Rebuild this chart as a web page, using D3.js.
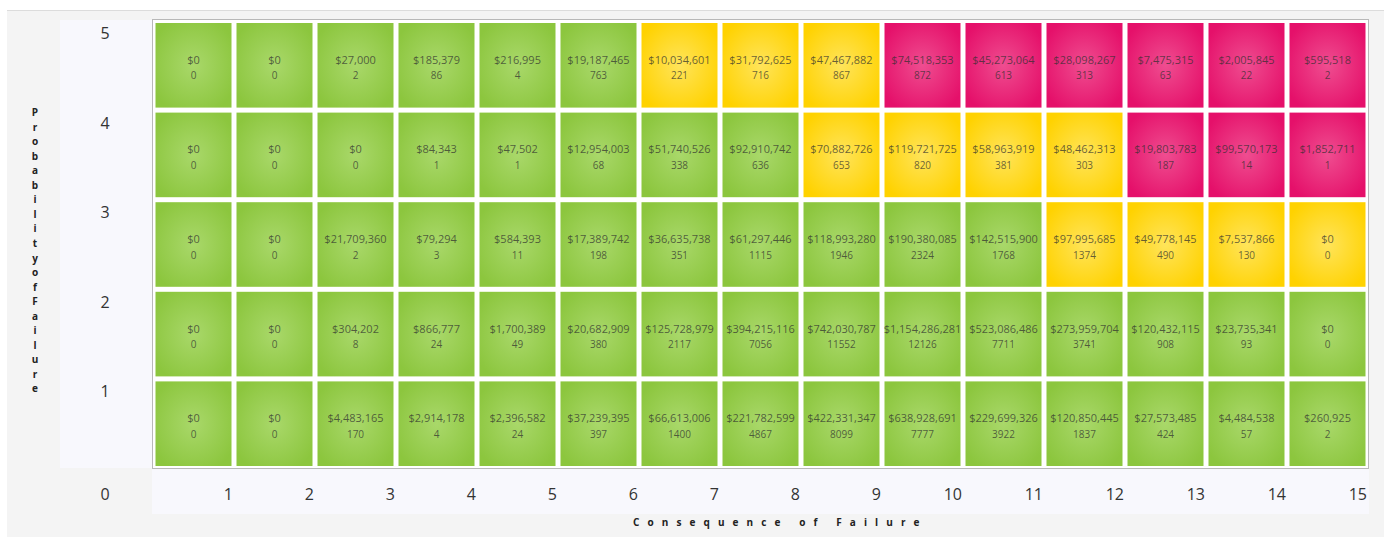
<!DOCTYPE html>
<html><head><meta charset="utf-8">
<script src="https://cdn.jsdelivr.net/npm/d3@7"></script>
<style>
html,body{margin:0;padding:0;background:#fff;}
svg{display:block;font-family:"Open Sans","Noto Sans",sans-serif;}
</style></head>
<body><svg id="chart" width="1384" height="537"></svg>
<script>
// ---- data ----
const consequence = [1,2,3,4,5,6,7,8,9,10,11,12,13,14,15];
const probability = [5,4,3,2,1];
const xTickLabels = ["0","1","2","3","4","5","6","7","8","9","10","11","12","13","14","15"];
const yTickLabels = ["1","2","3","4","5"];

const cost5 = [0,0,27000,185379,216995,19187465,10034601,31792625,47467882,74518353,45273064,28098267,7475315,2005845,595518];
const count5 = [0,0,2,86,4,763,221,716,867,872,613,313,63,22,2];
const risk5 = ["G","G","G","G","G","G","Y","Y","Y","R","R","R","R","R","R"];

const cost4 = [0,0,0,84343,47502,12954003,51740526,92910742,70882726,119721725,58963919,48462313,19803783,99570173,1852711];
const count4 = [0,0,0,1,1,68,338,636,653,820,381,303,187,14,1];
const risk4 = ["G","G","G","G","G","G","G","G","Y","Y","Y","Y","R","R","R"];

const cost3 = [0,0,21709360,79294,584393,17389742,36635738,61297446,118993280,190380085,142515900,97995685,49778145,7537866,0];
const count3 = [0,0,2,3,11,198,351,1115,1946,2324,1768,1374,490,130,0];
const risk3 = ["G","G","G","G","G","G","G","G","G","G","G","Y","Y","Y","Y"];

const cost2 = [0,0,304202,866777,1700389,20682909,125728979,394215116,742030787,1154286281,523086486,273959704,120432115,23735341,0];
const count2 = [0,0,8,24,49,380,2117,7056,11552,12126,7711,3741,908,93,0];
const risk2 = ["G","G","G","G","G","G","G","G","G","G","G","G","G","G","G"];

const cost1 = [0,0,4483165,2914178,2396582,37239395,66613006,221782599,422331347,638928691,229699326,120850445,27573485,4484538,260925];
const count1 = [0,0,170,4,24,397,1400,4867,8099,7777,3922,1837,424,57,2];
const risk1 = ["G","G","G","G","G","G","G","G","G","G","G","G","G","G","G"];

const xTitle = "Consequence of Failure";
const yTitle = "Probability of Failure";

// ---- build cells ----
const rows = {5:[cost5,count5,risk5],4:[cost4,count4,risk4],3:[cost3,count3,risk3],2:[cost2,count2,risk2],1:[cost1,count1,risk1]};
const cells = [];
probability.forEach(p => {
  consequence.forEach((c,i) => {
    cells.push({p, c, cost: rows[p][0][i], count: rows[p][1][i], risk: rows[p][2][i]});
  });
});

const svg = d3.select("#chart");
const x = d3.scaleLinear().domain([0,15]).range([153,1368]);
const y = d3.scaleLinear().domain([0,5]).range([468,20]);

// backgrounds
svg.append("rect").attr("x",7).attr("y",10).attr("width",1377).attr("height",527).attr("fill","#f4f4f4");
svg.append("line").attr("x1",7).attr("x2",1384).attr("y1",10.5).attr("y2",10.5).attr("stroke","#dcdcdc");
svg.append("rect").attr("x",60).attr("y",y(5)).attr("width",x(0)-60).attr("height",y(0)-y(5)).attr("fill","#f8f8fd");
svg.append("rect").attr("x",x(0)-1).attr("y",y(0)).attr("width",x(15)-x(0)+2).attr("height",46).attr("fill","#f8f8fd");
svg.append("rect").attr("x",x(0)-0.5).attr("y",y(5)-0.5).attr("width",x(15)-x(0)+1).attr("height",y(0)-y(5)+1)
  .attr("fill","#fff").attr("stroke","#b8b8b8").attr("stroke-width",1);

// gradients
const defs = svg.append("defs");
const palette = {G:["#a9d86a","#8cc63e"], Y:["#ffe45a","#ffd200"], R:["#ef4d90","#e5106a"]};
Object.entries(palette).forEach(([k,[c0,c1]]) => {
  const g = defs.append("radialGradient").attr("id","grad"+k).attr("cx","50%").attr("cy","50%").attr("r","60%");
  g.append("stop").attr("offset","0%").attr("stop-color",c0);
  g.append("stop").attr("offset","100%").attr("stop-color",c1);
});

const pad = 2.5;
const fmt = d3.format(",");
const cg = svg.append("g").selectAll("g").data(cells).join("g");
cg.append("rect")
  .attr("x", d => x(d.c-1)+pad)
  .attr("y", d => y(d.p)+pad+0.5)
  .attr("width", d => x(d.c)-x(d.c-1)-2*pad)
  .attr("height", d => y(d.p-1)-y(d.p)-2*pad)
  .attr("fill", d => "url(#grad"+d.risk+")");
cg.append("text")
  .attr("x", d => (x(d.c-1)+x(d.c))/2)
  .attr("y", d => (y(d.p)+y(d.p-1))/2-1)
  .attr("text-anchor","middle")
  .attr("font-size",11).attr("fill","#2e2e2e").attr("fill-opacity",0.72)
  .text(d => "$"+fmt(d.cost));
cg.append("text")
  .attr("x", d => (x(d.c-1)+x(d.c))/2)
  .attr("y", d => (y(d.p)+y(d.p-1))/2+14.5)
  .attr("text-anchor","middle")
  .attr("font-size",10).attr("fill","#2e2e2e").attr("fill-opacity",0.72)
  .text(d => d.count);

// x tick labels
svg.append("g").selectAll("text").data(xTickLabels.slice(1)).join("text")
  .attr("x", (d,i) => x(i+1)-1).attr("y", 500)
  .attr("text-anchor","end").attr("font-size",16).attr("fill","#333").text(d => d);
// corner zero
svg.append("text").attr("x",105).attr("y",500).attr("text-anchor","middle")
  .attr("font-size",16).attr("fill","#333").text(xTickLabels[0]);
// y tick labels
svg.append("g").selectAll("text").data(yTickLabels).join("text")
  .attr("x",105).attr("y",(d,i) => y(i+1)+19)
  .attr("text-anchor","middle").attr("font-size",16).attr("fill","#333").text(d => d);

// y title: stacked letters
const yLetters = yTitle.replace(/ /g,"").split("");
svg.append("g").selectAll("text").data(yLetters).join("text")
  .attr("x",35).attr("y",(d,i) => 116 + i*14.55)
  .attr("text-anchor","middle").attr("font-size",10).attr("font-weight","bold").attr("fill","#222").text(d => d);

// x title
svg.append("text").attr("x",633).attr("y",526)
  .attr("font-size",10).attr("font-weight","bold").attr("fill","#222")
  .style("letter-spacing","8.1px").style("white-space","pre").text(xTitle);
</script></body></html>
